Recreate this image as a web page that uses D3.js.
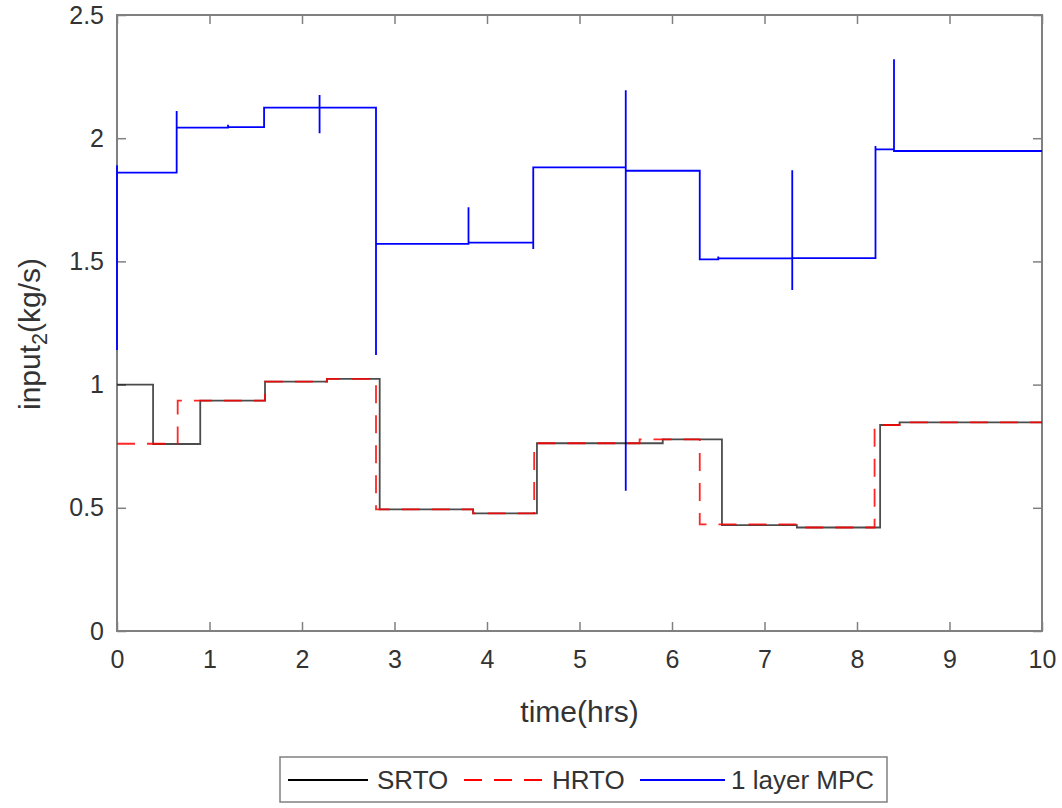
<!DOCTYPE html>
<html>
<head>
<meta charset="utf-8">
<script src="https://cdn.jsdelivr.net/npm/d3@7"></script>
<style>
  body { margin: 0; background: #fff; }
  svg text { font-family: "Liberation Sans", Arial, sans-serif; fill: #333333; }
</style>
</head>
<body>
<svg id="chart" width="1062" height="808"></svg>
<script>
// ---- data (step series: time in hrs, value in kg/s) ----
const srtoTime  = [0, 0.39, 0.90, 1.60, 2.27, 2.84, 3.85, 4.54, 5.90, 6.54, 7.35, 8.25, 8.46, 10];
const srtoValue = [1.00, 0.759, 0.935, 1.012, 1.023, 0.494, 0.477, 0.762, 0.778, 0.430, 0.420, 0.836, 0.847, 0.847];

const hrtoTime  = [0, 0.656, 1.60, 2.27, 2.80, 3.85, 4.51, 5.65, 6.30, 7.35, 8.19, 8.46, 10];
const hrtoValue = [0.760, 0.935, 1.012, 1.023, 0.494, 0.477, 0.762, 0.778, 0.433, 0.420, 0.836, 0.847, 0.847];

const mpcTime  = [0, 0, 0, 0.645, 0.645, 1.20, 1.20, 1.59, 2.19, 2.19, 2.19, 2.80, 2.80, 3.80, 3.80, 4.50, 4.50, 5.50, 5.50, 5.50, 6.30, 6.50, 6.50, 7.30, 7.30, 7.30, 8.20, 8.20, 8.40, 8.40, 10];
const mpcValue = [1.14, 1.89, 1.86, 2.11, 2.043, 2.055, 2.045, 2.124, 2.175, 2.02, 2.124, 1.12, 1.571, 1.72, 1.576, 1.55, 1.882, 2.195, 0.569, 1.868, 1.508, 1.52, 1.512, 1.87, 1.384, 1.513, 1.968, 1.955, 2.32, 1.948, 1.948];

const xTicks = [0, 1, 2, 3, 4, 5, 6, 7, 8, 9, 10];
const yTicks = [0, 0.5, 1, 1.5, 2, 2.5];
const seriesNames = ["SRTO", "HRTO", "1 layer MPC"];
const seriesColors = ["#000000", "#ff0000", "#0000ff"];

// ---- layout ----
const svg = d3.select("#chart");
const L = 117, R = 1042, T = 15, B = 631;
const x = d3.scaleLinear().domain([0, 10]).range([L, R]);
const y = d3.scaleLinear().domain([0, 2.5]).range([B, T]);
const tickFont = 25, labelFont = 30, legendFont = 26;
const axisColor = "#808080";
const dash = "18,12";

// box
svg.append("rect").attr("x", L).attr("y", T).attr("width", R - L).attr("height", B - T)
  .attr("fill", "none").attr("stroke", axisColor).attr("stroke-width", 2);

function styleAxis(g, labels) {
  g.select(".domain").remove();
  g.selectAll(".tick line").attr("stroke", axisColor).attr("stroke-width", 1.5);
  g.selectAll(".tick text").attr("font-size", tickFont).attr("font-family", "Liberation Sans, Arial, sans-serif").attr("fill", "#333333");
  if (!labels) g.selectAll(".tick text").remove();
}

svg.append("g").attr("transform", `translate(0,${B})`)
  .call(d3.axisBottom(x).tickValues(xTicks).tickSize(-9).tickPadding(19).tickFormat(d3.format("d")))
  .call(g => styleAxis(g, true));
svg.append("g").attr("transform", `translate(0,${T})`)
  .call(d3.axisTop(x).tickValues(xTicks).tickSize(-9))
  .call(g => styleAxis(g, false));
svg.append("g").attr("transform", `translate(${L},0)`)
  .call(d3.axisLeft(y).tickValues(yTicks).tickSize(-9).tickPadding(13).tickFormat(d => d3.format("")(d)))
  .call(g => styleAxis(g, true));
svg.append("g").attr("transform", `translate(${R},0)`)
  .call(d3.axisRight(y).tickValues(yTicks).tickSize(-9))
  .call(g => styleAxis(g, false));

// lines
const line = d3.line().x(d => x(d[0])).y(d => y(d[1])).curve(d3.curveStepAfter);
const plotG = svg.append("g");
function zip(a, b) { return a.map((t, i) => [t, b[i]]); }

plotG.append("path").datum(zip(mpcTime, mpcValue)).attr("d", line)
  .attr("fill", "none").attr("stroke", seriesColors[2]).attr("stroke-width", 1.8);
plotG.append("path").datum(zip(srtoTime, srtoValue)).attr("d", line)
  .attr("fill", "none").attr("stroke", seriesColors[0]).attr("stroke-width", 1.8).attr("stroke-opacity", 0.7);
plotG.append("path").datum(zip(hrtoTime, hrtoValue)).attr("d", line)
  .attr("fill", "none").attr("stroke", seriesColors[1]).attr("stroke-width", 1.8)
  .attr("stroke-dasharray", dash).attr("stroke-opacity", 0.85);

// axis labels
svg.append("text").attr("x", (L + R) / 2).attr("y", 722).attr("text-anchor", "middle")
  .attr("font-size", labelFont).text("time(hrs)");
const yl = svg.append("text").attr("transform", `translate(40,334) rotate(-90)`)
  .attr("text-anchor", "middle").attr("font-size", labelFont);
yl.append("tspan").text("input");
yl.append("tspan").attr("font-size", labelFont * 0.72).attr("dy", 7).text("2");
yl.append("tspan").attr("dy", -7).text("(kg/s)");

// legend
const lg = svg.append("g");
lg.append("rect").attr("x", 280).attr("y", 757).attr("width", 607).attr("height", 45)
  .attr("fill", "#fff").attr("stroke", axisColor).attr("stroke-width", 1.5);
const legendItems = [
  { name: seriesNames[0], color: seriesColors[0], dash: null, x0: 288, x1: 368, tx: 377 },
  { name: seriesNames[1], color: seriesColors[1], dash: dash, x0: 464, x1: 548, tx: 552 },
  { name: seriesNames[2], color: seriesColors[2], dash: null, x0: 640, x1: 725, tx: 731 }
];
legendItems.forEach(it => {
  lg.append("line").attr("x1", it.x0).attr("x2", it.x1).attr("y1", 780).attr("y2", 780)
    .attr("stroke", it.color).attr("stroke-width", 1.8).attr("stroke-dasharray", it.dash);
  lg.append("text").attr("x", it.tx).attr("y", 789).attr("font-size", legendFont).text(it.name);
});
</script>
</body>
</html>
